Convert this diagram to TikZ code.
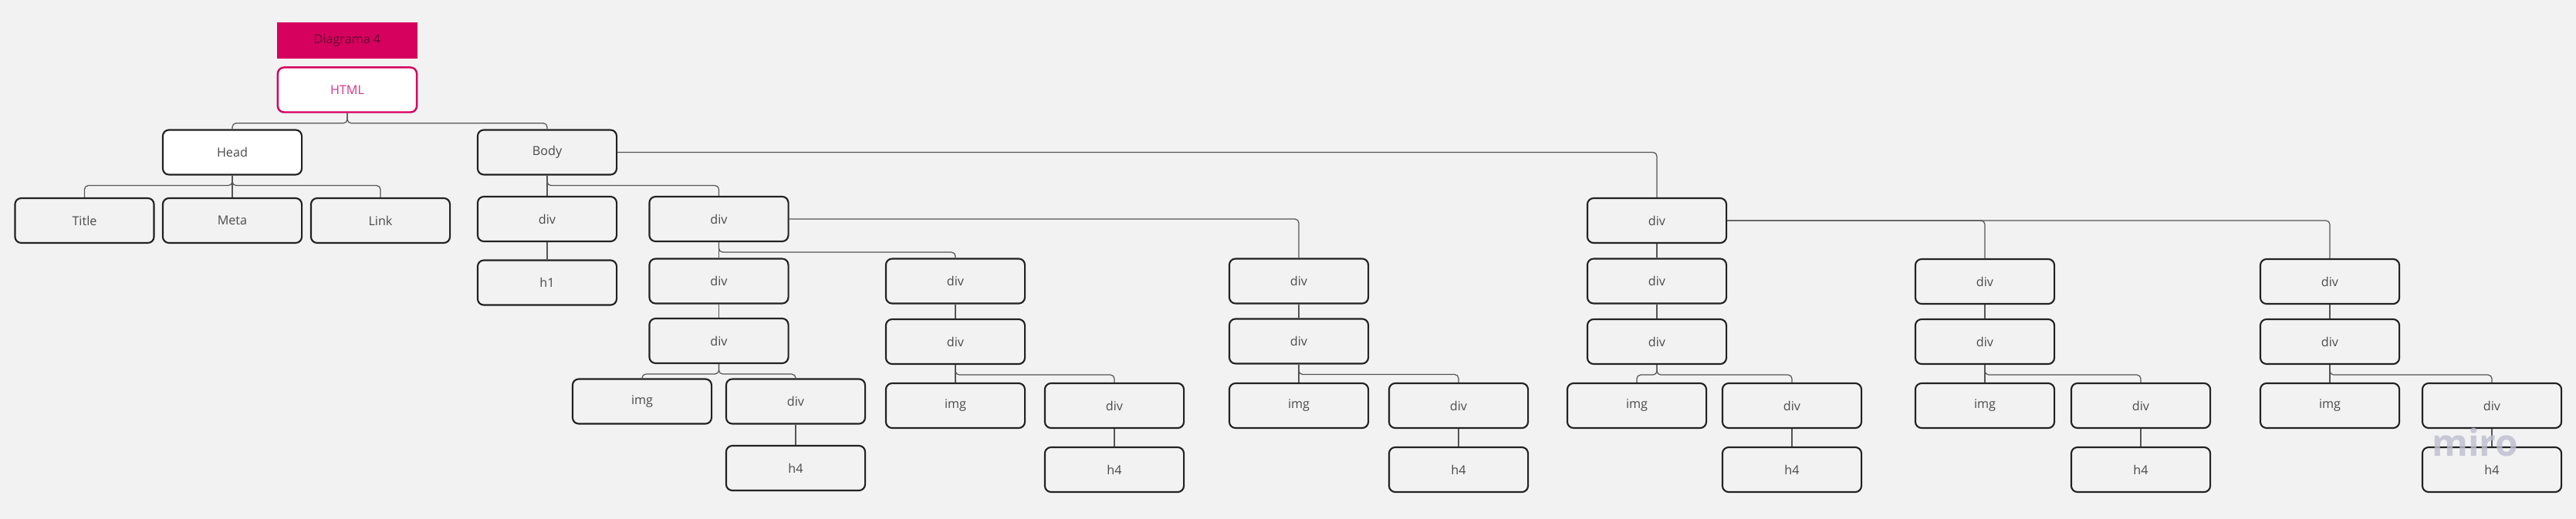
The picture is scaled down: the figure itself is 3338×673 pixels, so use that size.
\documentclass[tikz,border=0pt]{standalone}
\usepackage{fontspec}
\setmainfont{Open Sans}
\usepackage{tikz}

\definecolor{bgcol}{HTML}{F2F2F2}
\definecolor{pinkfill}{HTML}{D6005E}
\definecolor{pinktext}{HTML}{D33585}
\definecolor{darkpink}{HTML}{6A0733}
\definecolor{linecol}{HTML}{555555}
\definecolor{boxline}{HTML}{222222}
\definecolor{txtcol}{HTML}{4A4A4A}
\definecolor{wmarkcol}{HTML}{BDBDCF}

\tikzset{
	tag/.style={draw=boxline, line width=0.6pt, rounded corners=0.08cm, fill=bgcol,
		minimum width=1.8cm, minimum height=0.58cm, inner sep=0pt, text=txtcol,
		font=\fontsize{4.6}{5}\selectfont},
	whitetag/.style={tag, fill=white},
	titletag/.style={fill=pinkfill, minimum width=1.82cm, minimum height=0.47cm, inner sep=0pt,
		text=darkpink, font=\fontsize{4.6}{5}\selectfont},
	roottag/.style={whitetag, draw=pinkfill, line width=0.7pt, text=pinktext},
	conn/.style={draw=linecol, line width=0.35pt},
	fork/.style={rounded corners=0.05cm, to path={-- ++(0,13) -| (\tikztotarget)}},
	side/.style={rounded corners=0.05cm, to path={-| (\tikztotarget)}},
	wmark/.style={text=wmarkcol, text opacity=0.8, font=\fontsize{13.6}{14}\selectfont\bfseries}
}

\begin{document}
\begin{tikzpicture}[x=0.01cm, y=-0.01cm]
		\fill[bgcol] (0,0) rectangle (3338,673);
		% top
		\node[titletag] (diag) at (450,52.5) {Diagrama 4};
		\node[roottag] (html) at (450,116.5) {HTML};
		\node[whitetag] (head) at (301,197.5) {Head};
		\node[tag] (body) at (709,197.5) {Body};
		\node[tag] (title) at (109.5,286) {Title};
		\node[tag] (meta) at (301,286) {Meta};
		\node[tag] (link) at (493,286) {Link};
		% body
		\node[tag] (bdiv1) at (709,284) {div};
		\node[tag] (bh1) at (709,366.5) {h1};
		\node[tag] (bdiv2) at (931.5,284) {div};
		\node[tag] (sdiv) at (2147,286) {div};
		%
		\node[tag] (g1a) at (931.5,364.5) {div};
		\node[tag] (g1b) at (931.5,442) {div};
		\node[tag] (g1img) at (832,520.5) {img};
		\node[tag] (g1div) at (1031,520.5) {div};
		\node[tag] (g1h) at (1031,607) {h4};
		%
		\node[tag] (g2a) at (1238,364.5) {div};
		\node[tag] (g2b) at (1238,443) {div};
		\node[tag] (g2img) at (1238,526) {img};
		\node[tag] (g2div) at (1444,526) {div};
		\node[tag] (g2h) at (1444,609) {h4};
		%
		\node[tag] (g3a) at (1683,364.5) {div};
		\node[tag] (g3b) at (1683,442.5) {div};
		\node[tag] (g3img) at (1683,526) {img};
		\node[tag] (g3div) at (1890,526) {div};
		\node[tag] (g3h) at (1890,609) {h4};
		%
		\node[tag] (g4a) at (2147,364.5) {div};
		\node[tag] (g4b) at (2147,443) {div};
		\node[tag] (g4img) at (2121,526) {img};
		\node[tag] (g4div) at (2322,526) {div};
		\node[tag] (g4h) at (2322,609) {h4};
		%
		\node[tag] (g5a) at (2572,365) {div};
		\node[tag] (g5b) at (2572,443) {div};
		\node[tag] (g5img) at (2572,526) {img};
		\node[tag] (g5div) at (2774,526) {div};
		\node[tag] (g5h) at (2774,609) {h4};
		%
		\node[tag] (g6a) at (3019,365) {div};
		\node[tag] (g6b) at (3019,443) {div};
		\node[tag] (g6img) at (3019,526) {img};
		\node[tag] (g6div) at (3229,526) {div};
		\node[tag] (g6h) at (3229,609) {h4};
		%
		\path[conn]
		(html.south) edge[fork] (head.north)
		(html.south) edge[fork] (body.north)
		(head.south) edge[fork] (title.north)
		(head.south) edge (meta.north)
		(head.south) edge[fork] (link.north)
		(body.south) edge (bdiv1.north)
		(body.south) edge[fork] (bdiv2.north)
		(body.east) edge[side] (sdiv.north)
		(bdiv1.south) edge (bh1.north)
		(bdiv2.south) edge (g1a.north)
		(bdiv2.south) edge[fork] (g2a.north)
		(bdiv2.east) edge[side] (g3a.north)
		(g1a.south) edge (g1b.north)
		(g1b.south) edge[fork] (g1img.north)
		(g1b.south) edge[fork] (g1div.north)
		(g1div.south) edge (g1h.north)
		(g2a.south) edge (g2b.north)
		(g2b.south) edge (g2img.north)
		(g2b.south) edge[fork] (g2div.north)
		(g2div.south) edge (g2h.north)
		(g3a.south) edge (g3b.north)
		(g3b.south) edge (g3img.north)
		(g3b.south) edge[fork] (g3div.north)
		(g3div.south) edge (g3h.north)
		(sdiv.south) edge (g4a.north)
		(sdiv.east) edge[side] (g5a.north)
		(sdiv.east) edge[side] (g6a.north)
		(g4a.south) edge (g4b.north)
		(g4b.south) edge[fork] (g4img.north)
		(g4b.south) edge[fork] (g4div.north)
		(g4div.south) edge (g4h.north)
		(g5a.south) edge (g5b.north)
		(g5b.south) edge (g5img.north)
		(g5b.south) edge[fork] (g5div.north)
		(g5div.south) edge (g5h.north)
		(g6a.south) edge (g6b.north)
		(g6b.south) edge (g6img.north)
		(g6b.south) edge[fork] (g6div.north)
		(g6div.south) edge (g6h.north);
		%
		\node[wmark] (miro) at (3207,574) {miro};
	\end{tikzpicture}
\end{document}
